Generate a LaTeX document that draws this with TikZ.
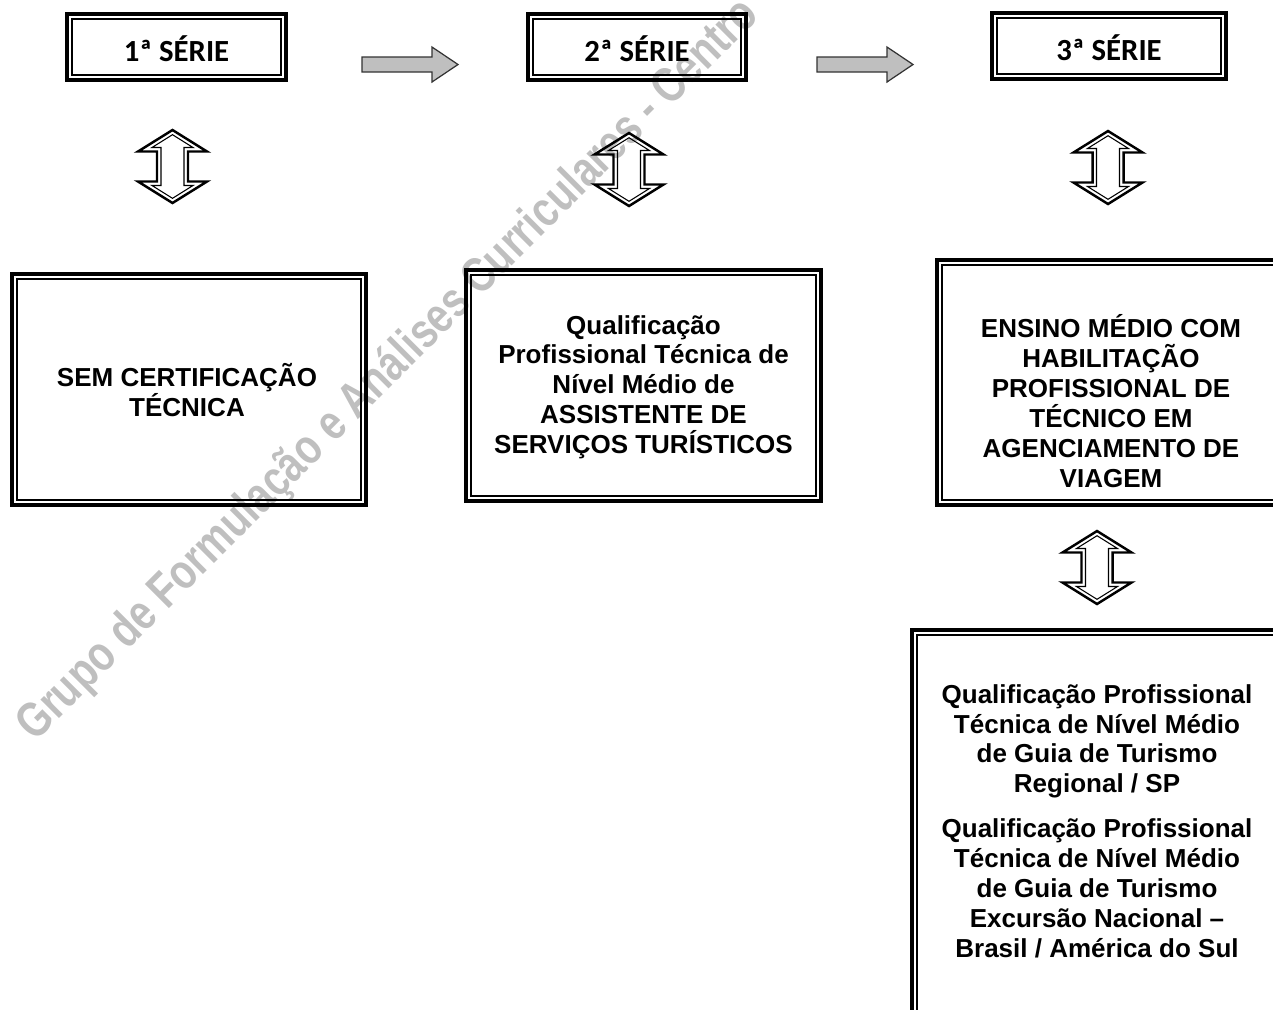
\documentclass[tikz,border=0pt]{standalone}
\usepackage{fontspec}
\setmainfont{Liberation Sans}
\newfontfamily\seriefont{Carlito}
\newfontfamily\wmfont[FakeStretch=0.8]{Liberation Sans}

% gray block arrow between two series
\newcommand{\grayarrow}[1]{%
  \draw[grayarrow, shift={(#1)}] (0,-7.5) -- (70,-7.5) -- (70,-17.5) -- (96,0)
    -- (70,17.5) -- (70,7.5) -- (0,7.5) -- cycle;}
% hollow up-down arrow, thick outline and thin inner outline
\newcommand{\updown}[1]{%
  \draw[udouter, shift={(#1)}] (0,-36.5) -- (34.5,-15) -- (15.5,-15) -- (15.5,15)
    -- (34.5,15) -- (0,36.5) -- (-34.5,15) -- (-15.5,15) -- (-15.5,-15) -- (-34.5,-15) -- cycle;
  \draw[udinner, shift={(#1)}] (0,-31.8) -- (20.5,-19) -- (11.5,-19) -- (11.5,19)
    -- (20.5,19) -- (0,31.8) -- (-20.5,19) -- (-11.5,19) -- (-11.5,-19) -- (-20.5,-19) -- cycle;}

\begin{document}
\begin{tikzpicture}[
            x = 0.02cm, y = -0.02cm, % one unit per pixel, y downwards
            line join = miter,
            inner sep = 0pt
        ]

        \tikzstyle{frame}=[draw = black, line width = 2pt, rectangle]
        \tikzstyle{innerframe}=[draw = black, line width = 0.85pt]
        \tikzstyle{serie}=[frame, font = \seriefont\fontsize{17.5}{20}\selectfont\bfseries,
            text height = 16pt, text depth = 0pt]
        \tikzstyle{boxtext}=[align = center, font = \fontsize{14.8}{17}\selectfont\bfseries]
        \tikzstyle{grayarrow}=[draw = black!80, fill = black!25, line width = 0.7pt]
        \tikzstyle{udouter}=[draw = black, line width = 1.4pt]
        \tikzstyle{udinner}=[draw = black, line width = 0.6pt]
        \tikzstyle{watermark}=[text = black!25, font = \wmfont\fontsize{28.2}{32}\selectfont\bfseries]

        \useasboundingbox (0,0) rectangle (1273,1009);

        \node[watermark, rotate = 45, anchor = base west] (wm) at (35,743)
            {Grupo de Formulação e Análises Curriculares - Centro};

        % series
        \node[serie, minimum width = 4.39cm, minimum height = 1.33cm] (s1) at (176.5,47) {1ª SÉRIE};
        \node[serie, minimum width = 4.37cm, minimum height = 1.33cm] (s2) at (637,47) {2ª SÉRIE};
        \node[serie, minimum width = 4.69cm, minimum height = 1.33cm] (s3) at (1109,46) {3ª SÉRIE};

        % certificates
        \node[frame, minimum width = 7.09cm, minimum height = 4.63cm] (cA) at (189,389.5) {};
        \node[frame, minimum width = 7.11cm, minimum height = 4.63cm] (cB) at (643.5,385.5) {};
        \node[frame, minimum width = 6.97cm, minimum height = 4.91cm] (cC) at (1111,382.5) {};
        \node[frame, minimum width = 7.41cm, minimum height = 8.17cm] (cD) at (1097,834) {};

        \foreach \b in {s1,s2,s3,cA,cB,cC,cD}
            \draw[innerframe] ([shift={(7,7)}]\b.north west) rectangle ([shift={(-7,-7)}]\b.south east);

        \node[boxtext] (tA) at (187,390) {SEM CERTIFICAÇÃO\\TÉCNICA};
        \node[boxtext] (tB) at (643.5,387) {Qualificação\\Profissional Técnica de\\Nível Médio de\\ASSISTENTE DE\\SERVIÇOS TURÍSTICOS};
        \node[boxtext] (tC) at (1111,401) {ENSINO MÉDIO COM\\HABILITAÇÃO\\PROFISSIONAL DE\\TÉCNICO EM\\AGENCIAMENTO DE\\VIAGEM};
        \node[boxtext] (tD) at (1097,821) {Qualificação Profissional\\Técnica de Nível Médio\\de Guia de Turismo\\Regional / SP\\[8.5pt]Qualificação Profissional\\Técnica de Nível Médio\\de Guia de Turismo\\Excursão Nacional –\\Brasil / América do Sul};

        % arrows
        \coordinate (h1) at (362,64.5);
        \coordinate (h2) at (817,64.5);
        \grayarrow{h1}
        \grayarrow{h2}

        \coordinate (v1) at (172.5,166.5);
        \coordinate (v2) at (629,169.5);
        \coordinate (v3) at (1108,167.5);
        \coordinate (v4) at (1097,567.5);
        \foreach \p in {v1,v2,v3,v4}
            {\updown{\p}}

    \end{tikzpicture}
\end{document}
